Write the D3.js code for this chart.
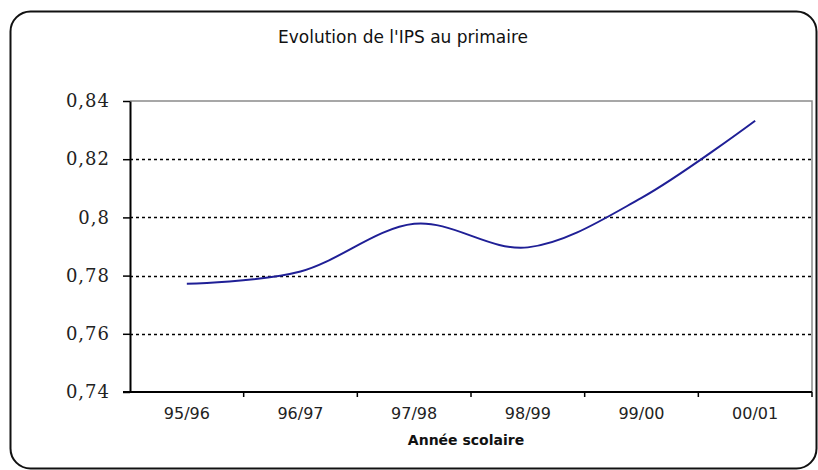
<!DOCTYPE html>
<html>
<head>
<meta charset="utf-8">
<script src="https://cdn.jsdelivr.net/npm/d3@7.9.0/dist/d3.min.js"></script>
<style>
  html, body { margin: 0; padding: 0; background: #fff; }
  svg { display: block; }
</style>
</head>
<body>
<div id="chart"></div>
<script>
// data
const years = ['95/96', '96/97', '97/98', '98/99', '99/00', '00/01'];
const ips = [0.7772, 0.7814, 0.7978, 0.7897, 0.8067, 0.8332];
const yTicks = [0.74, 0.76, 0.78, 0.8, 0.82, 0.84];
const gridTicks = [0.76, 0.78, 0.8, 0.82];

const width = 818;
const height = 470;
const margin = { top: 101, right: 6, bottom: 78, left: 130 };

const svg = d3.select('#chart')
    .append('svg')
    .attr('width', width)
    .attr('height', height);

// outer rounded frame
svg.append('rect')
    .attr('x', 10.5)
    .attr('y', 11.5)
    .attr('width', 806)
    .attr('height', 457)
    .attr('rx', 20)
    .attr('fill', '#fff')
    .attr('stroke', '#111')
    .attr('stroke-width', 2);

const xScale = d3.scaleBand()
    .domain(years)
    .range([margin.left, width - margin.right])
    .padding(0);

const yScale = d3.scaleLinear()
    .domain([0.74, 0.84])
    .range([height - margin.bottom, margin.top]);

const fmt = (d) => String(+d.toFixed(2)).replace('.', ',');

// plot frame top / right (grey)
svg.append('path')
    .attr('d', `M${margin.left},${yScale(0.84)}H${width - margin.right}V${yScale(0.74)}`)
    .attr('fill', 'none')
    .attr('stroke', '#8a8a8a')
    .attr('stroke-width', 1.5);

// dotted gridlines
svg.append('g')
    .attr('class', 'grid')
    .selectAll('line')
    .data(gridTicks)
    .join('line')
    .attr('x1', margin.left)
    .attr('x2', width - margin.right)
    .attr('y1', (d) => Math.round(yScale(d)) + 0.5)
    .attr('y2', (d) => Math.round(yScale(d)) + 0.5)
    .attr('stroke', '#000')
    .attr('stroke-width', 1.5)
    .attr('stroke-dasharray', '3,3');

// the line
const line = d3.line()
    .x((d, i) => xScale(years[i]) + xScale.bandwidth() / 2)
    .y((d) => yScale(d))
    .curve(d3.curveCardinal.tension(0));

svg.append('path')
    .datum(ips)
    .attr('d', line)
    .attr('fill', 'none')
    .attr('stroke', '#1f1f96')
    .attr('stroke-width', 2);

// y axis
const yAxis = svg.append('g')
    .attr('transform', `translate(${margin.left}, 0)`)
    .call(d3.axisLeft(yScale).tickValues(yTicks).tickFormat(fmt).tickSize(7).tickSizeOuter(0));
yAxis.select('.domain').attr('stroke', '#000').attr('stroke-width', 2);
yAxis.selectAll('.tick line').attr('stroke', '#000').attr('stroke-width', 1.5);
yAxis.selectAll('.tick text')
    .attr('x', -20)
    .attr('fill', '#222')
    .style('font-family', '"DejaVu Serif", serif')
    .style('font-size', '18px')
    .style('letter-spacing', '1px');

// x axis: ticks on category boundaries
const xAxisG = svg.append('g')
    .attr('transform', `translate(0, ${yScale(0.74)})`);
xAxisG.append('line')
    .attr('x1', margin.left - 7)
    .attr('x2', width - margin.right)
    .attr('stroke', '#000')
    .attr('stroke-width', 2);
xAxisG.selectAll('line.tk')
    .data(years.slice(1).concat(['end']))
    .join('line')
    .attr('class', 'tk')
    .attr('x1', (d, i) => xScale(years[i]) + xScale.bandwidth())
    .attr('x2', (d, i) => xScale(years[i]) + xScale.bandwidth())
    .attr('y1', 0)
    .attr('y2', 5)
    .attr('stroke', '#000')
    .attr('stroke-width', 1.5);
xAxisG.selectAll('text')
    .data(years)
    .join('text')
    .attr('x', (d) => xScale(d) + xScale.bandwidth() / 2)
    .attr('y', 27)
    .attr('text-anchor', 'middle')
    .attr('fill', '#222')
    .style('font-family', '"DejaVu Sans", sans-serif')
    .style('font-size', '16px')
    .text((d) => d);

// title and axis label
svg.append('text')
    .attr('x', 403)
    .attr('y', 43)
    .attr('text-anchor', 'middle')
    .attr('fill', '#111')
    .style('font-family', '"DejaVu Sans", sans-serif')
    .style('font-size', '17px')
    .text("Evolution de l'IPS au primaire");

svg.append('text')
    .attr('x', 466)
    .attr('y', 445)
    .attr('text-anchor', 'middle')
    .attr('fill', '#111')
    .style('font-family', '"DejaVu Sans", sans-serif')
    .style('font-size', '14px')
    .style('font-weight', 'bold')
    .text('Année scolaire');
</script>
</body>
</html>
